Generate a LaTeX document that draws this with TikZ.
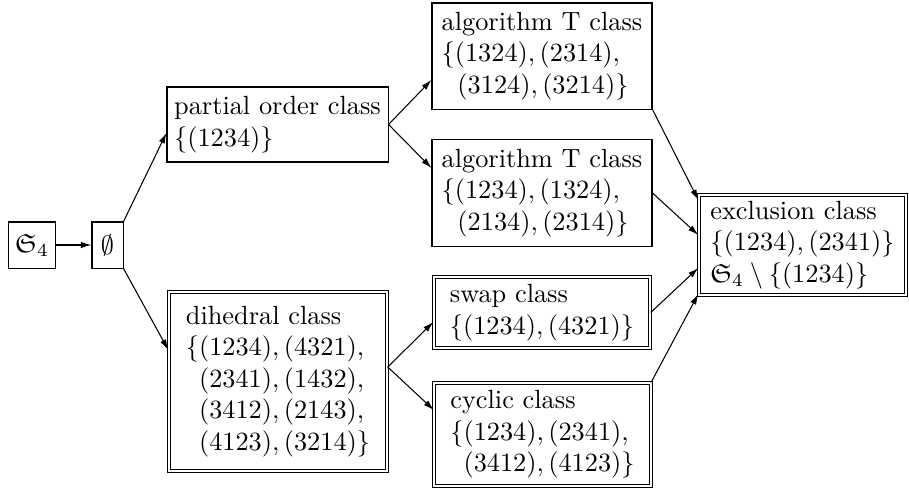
\documentclass[tikz,border=0pt]{standalone}
\usepackage{amsfonts,amssymb}
\usetikzlibrary{arrows.meta}
\begin{document}
\begin{tikzpicture}[x=0.38pt,y=-0.38pt,
  box/.style={draw,line width=0.4pt,align=left,inner sep=0pt,font=\normalsize},
  dbox/.style={box,double,double distance=0.7pt},
  arr/.style={-{Latex[length=4pt,width=2.4pt]},line width=0.4pt}]
\useasboundingbox (0,0) rectangle (909,489);
\node[box,minimum width=18.2pt,minimum height=17.5pt] (s4) at (32,245) {$\mathfrak{S}_4$};
\node[box,minimum width=11.8pt,minimum height=17.5pt] (em) at (107.5,245) {$\emptyset$};
\node[box,minimum width=84pt,minimum height=28.5pt] (po) at (277.5,124.5)
  {partial order class\\ $\{(1234)\}$};
\node[dbox,minimum width=83pt,minimum height=68.1pt] (dih) at (278,381.5)
  {dihedral class\\ $\{(1234),(4321),$\\ \hspace{5pt}$(2341),(1432),$\\ \hspace{5pt}$(3412),(2143),$\\ \hspace{5pt}$(4123),(3214)\}$};
\node[box,minimum width=83.6pt,minimum height=40.3pt] (t1) at (542,56)
  {algorithm T class\\ $\{(1324),(2314),$\\ \hspace{6pt}$(3124),(3214)\}$};
\node[box,minimum width=83.6pt,minimum height=41pt] (t2) at (542,193)
  {algorithm T class\\ $\{(1234),(1324),$\\ \hspace{6pt}$(2134),(2314)\}$};
\node[dbox,minimum width=82.2pt,minimum height=27.1pt] (sw) at (542,312.5)
  {swap class\\ $\{(1234),(4321)\}$};
\node[dbox,minimum width=82.2pt,minimum height=39.3pt] (cy) at (542.5,434.5)
  {cyclic class\\ $\{(1234),(2341),$\\ \hspace{5pt}$(3412),(4123)\}$};
\node[dbox,minimum width=78.8pt,minimum height=38.1pt] (ex) at (802.5,245)
  {exclusion class\\ $\{(1234),(2341)\}$\\ $\mathfrak{S}_4\setminus\{(1234)\}$};
\draw[arr] (s4.east) -- (em.west);
\draw[arr] (em.north east) -- ([yshift=-3.2pt]po.west);
\draw[arr] (em.south east) -- ([yshift=12pt]dih.west);
\draw[arr] (po.east) -- ([yshift=-9.1pt]t1.west);
\draw[arr] (po.east) -- ([yshift=9.5pt]t2.west);
\draw[arr] ([yshift=5.5pt]dih.east) -- ([yshift=-3.6pt]sw.west);
\draw[arr] ([yshift=5.5pt]dih.east) -- ([yshift=9.3pt]cy.west);
\draw[arr] (t1.south east) -- ([yshift=17.1pt]ex.west);
\draw[arr] (t2.east) -- ([yshift=3.8pt]ex.west);
\draw[arr] (sw.east) -- ([yshift=-8.7pt]ex.west);
\draw[arr] (cy.north east) -- ([yshift=-18.6pt]ex.west);
\end{tikzpicture}
\end{document}
